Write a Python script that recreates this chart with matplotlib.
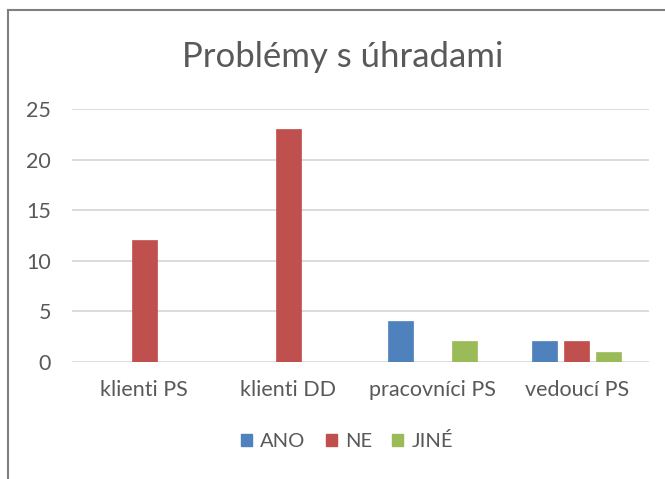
import numpy as np
import matplotlib
matplotlib.use("Agg")
import matplotlib.pyplot as plt
from matplotlib.lines import Line2D
from matplotlib.patches import Patch

plt.rcParams['font.family'] = ['Lato', 'DejaVu Sans']

# data
categories = ["klienti PS", "klienti DD", "pracovníci PS", "vedoucí PS"]
series_names = ["ANO", "NE", "JINÉ"]
ano = [0, 0, 4, 2]
ne = [12, 23, 0, 2]
jine = [0, 0, 2, 1]
yticks = [0, 5, 10, 15, 20, 25]

colors = ["#4F81BD", "#C0504D", "#9BBB59"]
text_col = "#595959"

fig = plt.figure(figsize=(6.65, 4.79), dpi=100)
ax = fig.add_axes([0.1083, 0.2449, 0.8677, 0.5276])

x = np.arange(len(categories))
w = 0.174
step = 0.222
for i, (vals, col) in enumerate(zip([ano, ne, jine], colors)):
    vals = np.array(vals, dtype=float)
    pos = x + (i - 1) * step
    mask = vals > 0
    ax.bar(pos[mask], vals[mask], width=w, color=col, edgecolor=col,
           linewidth=0.5, zorder=3)

ax.set_xlim(-0.5, len(categories) - 0.5)
ax.set_ylim(0, 25)
ax.set_yticks(yticks)
ax.set_xticks(x)
ax.set_xticklabels(categories)
ax.yaxis.grid(True, color="#D9D9D9", linewidth=1.3, zorder=0)
for s in ax.spines.values():
    s.set_visible(False)
ax.tick_params(axis="both", length=0, labelsize=15.5, labelcolor=text_col)
ax.tick_params(axis="x", pad=13)
ax.tick_params(axis="y", pad=15)

fig.text(0.516, 0.88, "Problémy s úhradami", ha="center", va="center",
         fontsize=25, color=text_col)

handles = [Patch(facecolor=c, edgecolor=c) for c in colors]
leg = fig.legend(handles, series_names, loc="center",
                 bbox_to_anchor=(0.522, 0.079), ncol=3,
                 frameon=False, fontsize=14.5, handlelength=0.55,
                 handleheight=0.55, handletextpad=0.4, columnspacing=1.0)
for t in leg.get_texts():
    t.set_color(text_col)

# outer chart border
fig.add_artist(Line2D([8 / 665, 8 / 665], [0, 1 - 10 / 479],
                      transform=fig.transFigure, color="#7F7F7F", lw=1.5))
fig.add_artist(Line2D([8 / 665, 1], [1 - 10 / 479, 1 - 10 / 479],
                      transform=fig.transFigure, color="#7F7F7F", lw=1.5))

fig.savefig("out.png", dpi=100)
